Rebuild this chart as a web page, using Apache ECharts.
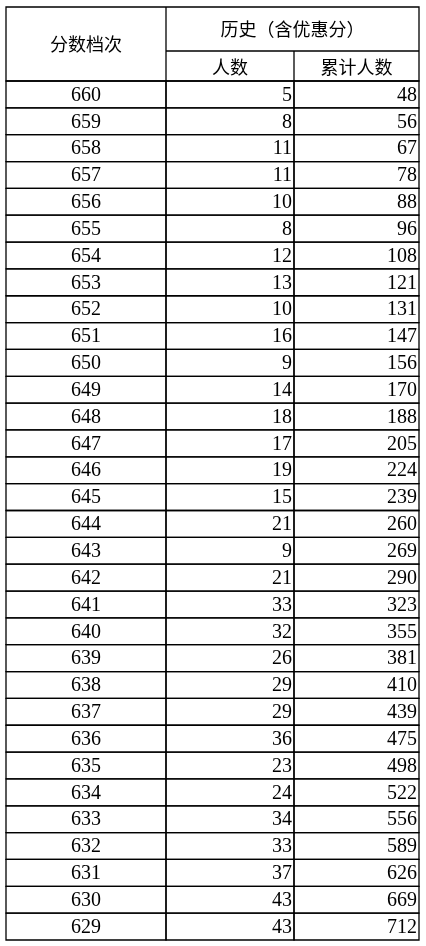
<!DOCTYPE html>
<html><head><meta charset="utf-8">
<script src="https://cdn.jsdelivr.net/npm/echarts@6/dist/echarts.min.js"></script>
<style>html,body{margin:0;padding:0;background:#fff}#c{width:426px;height:946px}</style>
</head><body><div id="c"></div>
<script>
var scores = [660,659,658,657,656,655,654,653,652,651,650,649,648,647,646,645,644,643,642,641,640,639,638,637,636,635,634,633,632,631,630,629];
var counts = [5,8,11,11,10,8,12,13,10,16,9,14,18,17,19,15,21,9,21,33,32,26,29,29,36,23,24,34,33,37,43,43];
var cumulative = [48,56,67,78,88,96,108,121,131,147,156,170,188,205,224,239,260,269,290,323,355,381,410,439,475,498,522,556,589,626,669,712];
var headSubject = '历史（含优惠分）';
var headScore = '分数档次';
var headCount = '人数';
var headCum = '累计人数';

var edges = [0, 160, 288, 413];
var L = 6, T = 81, HT = 7, HM = 51;
var serif = '"Liberation Serif","Times New Roman",serif';
var cjk = '"Noto Sans CJK SC",sans-serif';

var chart = echarts.init(document.getElementById('c'));
var rows = scores.map(function (s, i) { return [i, s, counts[i], cumulative[i]]; });

function renderRow(params, api) {
  var i = api.value(0);
  var top = api.coord([0, i]);
  var h = api.size([0, 1])[1];
  var y0 = top[1] - h / 2;
  var xs = edges.map(function (e) { return api.coord([e, i])[0]; });
  var kids = [];
  for (var c = 0; c < 3; c++) {
    kids.push({ type: 'rect', shape: { x: xs[c], y: y0, width: xs[c + 1] - xs[c], height: h },
      style: { fill: 'none', stroke: '#000', lineWidth: 1.3 } });
  }
  kids.push({ type: 'text', style: { text: String(api.value(1)), x: (xs[0] + xs[1]) / 2, y: top[1] + 1,
    align: 'center', verticalAlign: 'middle', font: '20px ' + serif, fill: '#000' } });
  kids.push({ type: 'text', style: { text: String(api.value(2)), x: xs[2] - 2, y: top[1] + 1,
    align: 'right', verticalAlign: 'middle', font: '20px ' + serif, fill: '#000' } });
  kids.push({ type: 'text', style: { text: String(api.value(3)), x: xs[3] - 2, y: top[1] + 1,
    align: 'right', verticalAlign: 'middle', font: '20px ' + serif, fill: '#000' } });
  return { type: 'group', children: kids };
}

var x1 = L + edges[1], x2 = L + edges[2], x3 = L + edges[3];
var hs = { stroke: '#000', lineWidth: 1.3 };
chart.setOption({
  animation: false,
  grid: { left: L, right: 426 - x3, top: T, bottom: 6 },
  xAxis: { type: 'value', min: 0, max: 413, show: false },
  yAxis: { type: 'category', data: scores.map(String), inverse: true, show: false },
  series: [{ type: 'custom', renderItem: renderRow, data: rows, silent: true }],
  graphic: [
    { type: 'rect', shape: { x: L, y: HT, width: edges[3], height: T - HT }, style: { fill: 'none', stroke: '#000', lineWidth: 1.3 } },
    { type: 'line', shape: { x1: x1, y1: HT, x2: x1, y2: T }, style: hs },
    { type: 'line', shape: { x1: x1, y1: HM, x2: x3, y2: HM }, style: hs },
    { type: 'line', shape: { x1: x2, y1: HM, x2: x2, y2: T }, style: hs },
    { type: 'text', style: { text: headScore, x: (L + x1) / 2, y: (HT + T) / 2, align: 'center', verticalAlign: 'middle', font: '18px ' + cjk, fill: '#000' } },
    { type: 'text', style: { text: '历史（含优惠分）', x: (x1 + x3) / 2, y: (HT + HM) / 2, align: 'center', verticalAlign: 'middle', font: '18px ' + cjk, fill: '#000' } },
    { type: 'text', style: { text: headCount, x: (x1 + x2) / 2, y: (HM + T) / 2 + 1, align: 'center', verticalAlign: 'middle', font: '18px ' + cjk, fill: '#000' } },
    { type: 'text', style: { text: headCum, x: (x2 + x3) / 2, y: (HM + T) / 2 + 1, align: 'center', verticalAlign: 'middle', font: '18px ' + cjk, fill: '#000' } }
  ]
});
</script></body></html>
